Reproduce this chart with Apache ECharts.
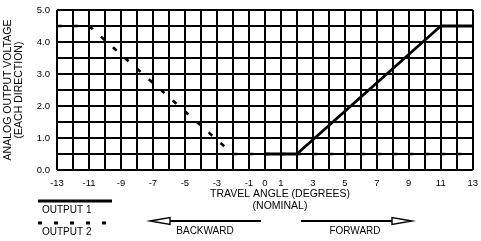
<!DOCTYPE html>
<html lang="en">
<head>
    <meta charset="UTF-8">
    <title>Output voltage</title>
    <script src="https://cdn.jsdelivr.net/npm/echarts@6/dist/echarts.min.js"></script>
    <style>
        * { margin: 0; padding: 0; }
        html, body { width: 100%; height: 100%; overflow: hidden; background: #fff; }
        .box { width: 481px; height: 241px; }
    </style>
</head>
<body>
<div class="box"></div>
<script>
    // travel angle (deg) -> output voltage
    let output1 = [[0, 0.5], [2, 0.5], [11, 4.5], [13, 4.5]];
    let output2 = [[-13, 4.5], [-11, 4.5], [-2, 0.5], [13, 0.5]];
    let xLabels = [-13, -11, -9, -7, -5, -3, -1, 0, 1, 3, 5, 7, 9, 11, 13];
    let yLabels = [0, 1, 2, 3, 4, 5];

    let font = 'Liberation Sans, Arial, sans-serif';
    let mycharts = echarts.init(document.querySelector('.box'));

    let label = (x, y, s, align) => ({
        type: 'text', x: x, y: y,
        style: {
            text: s, font: '10px ' + font, fill: '#000',
            textAlign: align || 'left', textVerticalAlign: 'middle', lineHeight: 12
        }
    });

    let option = {
        animation: false,
        grid: { left: 57, right: 6, top: 10, bottom: 71 },
        xAxis: {
            type: 'value', min: -13, max: 13, interval: 1,
            axisLine: { show: false },
            axisTick: { show: false },
            axisLabel: {
                margin: 8, fontSize: 9.5, fontFamily: font, color: '#000',
                formatter: v => xLabels.includes(v) ? String(v) : ''
            },
            splitLine: { lineStyle: { color: '#000', width: 2 } }
        },
        yAxis: {
            type: 'value', min: 0, max: 5, interval: 0.5,
            axisLine: { show: false },
            axisTick: { show: false },
            axisLabel: {
                margin: 7, fontSize: 9.5, fontFamily: font, color: '#000',
                formatter: v => yLabels.includes(v) ? v.toFixed(1) : ''
            },
            splitLine: { lineStyle: { color: '#000', width: 2 } }
        },
        series: [
            {
                name: 'OUTPUT 1', type: 'line', data: output1, symbol: 'none',
                lineStyle: { color: '#000', width: 2.8 }
            },
            {
                name: 'OUTPUT 2', type: 'line', data: output2, symbol: 'none',
                lineStyle: { color: '#000', width: 2.6, type: [5, 11] }
            }
        ],
        graphic: [
            {
                type: 'text', x: 14, y: 90, rotation: Math.PI / 2,
                style: {
                    text: 'ANALOG OUTPUT VOLTAGE\n(EACH DIRECTION)', font: '10.5px ' + font,
                    fill: '#000', textAlign: 'center', textVerticalAlign: 'middle', lineHeight: 11
                }
            },
            {
                type: 'text', x: 280, y: 200,
                style: {
                    text: 'TRAVEL ANGLE (DEGREES)\n(NOMINAL)', font: '10.5px ' + font,
                    fill: '#000', textAlign: 'center', textVerticalAlign: 'middle', lineHeight: 12
                }
            },
            // legend
            { type: 'line', shape: { x1: 38, y1: 201, x2: 112, y2: 201 }, style: { stroke: '#000', lineWidth: 2.8 } },
            label(42, 210, 'OUTPUT 1'),
            { type: 'line', shape: { x1: 38, y1: 223, x2: 108, y2: 223 }, style: { stroke: '#000', lineWidth: 2.8, lineDash: [4, 12] } },
            label(42, 232, 'OUTPUT 2'),
            // direction arrows
            { type: 'line', shape: { x1: 166, y1: 221, x2: 261, y2: 221 }, style: { stroke: '#000', lineWidth: 1.8 } },
            { type: 'polygon', shape: { points: [[150, 221], [170, 217.5], [170, 224.5]] }, style: { fill: '#fff', stroke: '#000', lineWidth: 1.4 } },
            label(205, 231, 'BACKWARD', 'center'),
            { type: 'line', shape: { x1: 301, y1: 221, x2: 396, y2: 221 }, style: { stroke: '#000', lineWidth: 1.8 } },
            { type: 'polygon', shape: { points: [[412, 221], [392, 217.5], [392, 224.5]] }, style: { fill: '#fff', stroke: '#000', lineWidth: 1.4 } },
            label(355, 231, 'FORWARD', 'center')
        ]
    };
    mycharts.setOption(option);
</script>
</body>
</html>
